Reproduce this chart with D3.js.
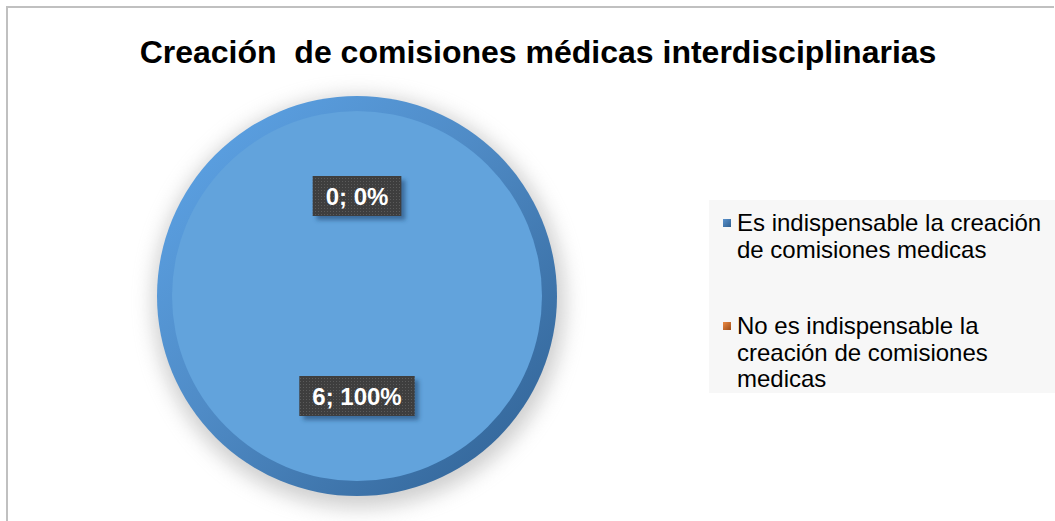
<!DOCTYPE html>
<html lang="es">
<head>
<meta charset="UTF-8">
<title>pie</title>
<script src="https://cdn.jsdelivr.net/npm/d3@7"></script>
<style>
  body { margin: 0; background: #fff; }
  svg text { font-family: "Liberation Sans", Arial, sans-serif; }
</style>
</head>
<body>
<div id="chart"></div>
<script>
// datos
var titulo = "Creación  de comisiones médicas interdisciplinarias";
var categorias = ["Es indispensable la creación de comisiones medicas",
                  "No es indispensable la creación de comisiones medicas"];
var valores = [6, 0];
var colores = ["#62a3dc", "#d9782f"];
var coloresLeyenda = [["#5a92cc", "#2f5f90"], ["#ec8a44", "#9c4c18"]];

var width = 1055, height = 521;
var cx = 357, cy = 296, radio = 200, bisel = 15;

var svg = d3.select("#chart").append("svg")
    .attr("width", width)
    .attr("height", height);

var defs = svg.append("defs");

// sombra del pastel
var fSombra = defs.append("filter").attr("id", "sombra")
    .attr("x", "-30%").attr("y", "-30%").attr("width", "160%").attr("height", "160%");
fSombra.append("feGaussianBlur").attr("stdDeviation", 10);

var fEtiqueta = defs.append("filter").attr("id", "sombraEtq")
    .attr("x", "-30%").attr("y", "-30%").attr("width", "160%").attr("height", "160%");
fEtiqueta.append("feGaussianBlur").attr("stdDeviation", 2);

// bisel
var gBisel = defs.append("linearGradient").attr("id", "bisel")
    .attr("x1", "0%").attr("y1", "0%").attr("x2", "100%").attr("y2", "100%");
gBisel.append("stop").attr("offset", "0%").attr("stop-color", "#5ea6ea");
gBisel.append("stop").attr("offset", "45%").attr("stop-color", "#4f8bc6");
gBisel.append("stop").attr("offset", "100%").attr("stop-color", "#2e5f91");

// puntos de las etiquetas
var patron = defs.append("pattern").attr("id", "puntos")
    .attr("width", 3).attr("height", 3).attr("patternUnits", "userSpaceOnUse");
patron.append("rect").attr("width", 3).attr("height", 3).attr("fill", "#3e3e3e");
patron.append("rect").attr("width", 1).attr("height", 1).attr("fill", "#5a5a5a");

coloresLeyenda.forEach(function (c, i) {
    var g = defs.append("linearGradient").attr("id", "ley" + i)
        .attr("x1", "0%").attr("y1", "0%").attr("x2", "100%").attr("y2", "100%");
    g.append("stop").attr("offset", "0%").attr("stop-color", c[0]);
    g.append("stop").attr("offset", "100%").attr("stop-color", c[1]);
});

// marco
svg.append("path")
    .attr("d", "M7," + height + "V7H" + (width - 1))
    .attr("fill", "none")
    .attr("stroke", "#c0c0c0")
    .attr("stroke-width", 2);

// titulo
svg.append("text")
    .attr("x", 538)
    .attr("y", 63)
    .attr("text-anchor", "middle")
    .attr("font-size", 32)
    .attr("font-weight", "bold")
    .attr("fill", "#000")
    .style("white-space", "pre")
    .text(titulo);

var pie = d3.pie().sort(null).value(function (d) { return d; });
var arcos = pie(valores);

var arcoExt = d3.arc().innerRadius(0).outerRadius(radio);
var arcoCara = d3.arc().innerRadius(0).outerRadius(radio - bisel);
var arcoEtq = d3.arc().innerRadius(0).outerRadius(radio);

var gPie = svg.append("g").attr("transform", "translate(" + cx + "," + cy + ")");

gPie.append("circle")
    .attr("cx", 2).attr("cy", 6)
    .attr("r", radio + 6)
    .attr("fill", "#a0a0a0")
    .attr("opacity", 0.5)
    .attr("filter", "url(#sombra)");

gPie.selectAll("path.ext")
    .data(arcos)
    .enter().append("path")
    .attr("class", "ext")
    .attr("d", arcoExt)
    .attr("fill", "url(#bisel)");

gPie.selectAll("path.cara")
    .data(arcos)
    .enter().append("path")
    .attr("class", "cara")
    .attr("d", arcoCara)
    .attr("fill", function (d, i) { return colores[i]; });

// etiquetas de datos
var total = d3.sum(valores);
var etq = gPie.selectAll("g.etq")
    .data(arcos)
    .enter().append("g")
    .attr("class", "etq")
    .attr("transform", function (d) {
        var c = arcoEtq.centroid(d);
        return "translate(" + c[0] + "," + c[1] + ")";
    });

etq.each(function (d) {
    var g = d3.select(this);
    var txt = d.data + "; " + Math.round(d.data / total * 100) + "%";
    var t = g.append("text")
        .attr("text-anchor", "middle")
        .attr("y", 9)
        .attr("font-size", 24)
        .attr("font-weight", "bold")
        .attr("fill", "#fff")
        .text(txt);
    var w = t.node().getComputedTextLength() + 26;
    g.insert("rect", "text")
        .attr("x", -w / 2 + 4).attr("y", -20 + 4)
        .attr("width", w).attr("height", 40)
        .attr("fill", "#1d3f66")
        .attr("opacity", 0.55)
        .attr("filter", "url(#sombraEtq)");
    g.insert("rect", "text")
        .attr("x", -w / 2).attr("y", -20)
        .attr("width", w).attr("height", 40)
        .attr("fill", "url(#puntos)");
});

// leyenda
var leyX = 709, leyY = 200;
svg.append("rect")
    .attr("x", leyX).attr("y", leyY)
    .attr("width", width - leyX).attr("height", 193)
    .attr("fill", "#f7f7f7");

var itemY = [231, 334];
var gLey = svg.selectAll("g.ley")
    .data(categorias)
    .enter().append("g")
    .attr("class", "ley")
    .attr("transform", function (d, i) { return "translate(737," + itemY[i] + ")"; });

gLey.append("rect")
    .attr("x", -14).attr("y", -12)
    .attr("width", 8).attr("height", 8)
    .attr("fill", function (d, i) { return "url(#ley" + i + ")"; });

gLey.each(function (d) {
    var t = d3.select(this).append("text")
        .attr("font-size", 24)
        .attr("fill", "#000");
    var palabras = d.split(" "), linea = [], n = 0;
    var ts = t.append("tspan").attr("x", 0).attr("y", 0);
    palabras.forEach(function (p) {
        linea.push(p);
        ts.text(linea.join(" "));
        if (ts.node().getComputedTextLength() > 316 && linea.length > 1) {
            linea.pop();
            ts.text(linea.join(" "));
            linea = [p];
            n++;
            ts = t.append("tspan").attr("x", 0).attr("y", n * 26.5).text(p);
        }
    });
});
</script>
</body>
</html>
